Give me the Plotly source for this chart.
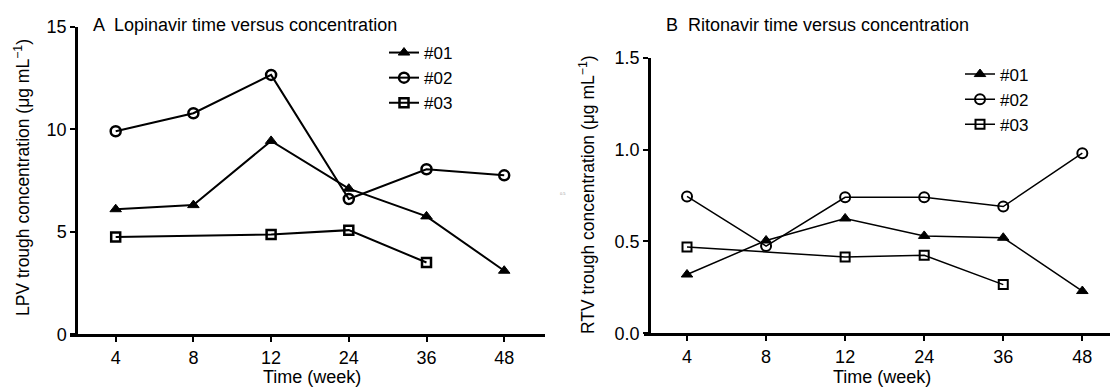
import plotly.graph_objects as go

weeks = ["4", "8", "12", "24", "36", "48"]

# Panel A: Lopinavir (LPV) trough concentration, µg/mL
lpv_01_x = ["4", "8", "12", "24", "36", "48"]
lpv_01 = [6.1, 6.3, 9.43, 7.1, 5.75, 3.1]
lpv_02_x = ["4", "8", "12", "24", "36", "48"]
lpv_02 = [9.9, 10.78, 12.65, 6.6, 8.05, 7.75]
lpv_03_x = ["4", "12", "24", "36"]
lpv_03 = [4.75, 4.87, 5.08, 3.5]

# Panel B: Ritonavir (RTV) trough concentration, µg/mL
rtv_01_x = ["4", "8", "12", "24", "36", "48"]
rtv_01 = [0.32, 0.505, 0.625, 0.53, 0.52, 0.23]
rtv_02_x = ["4", "8", "12", "24", "36", "48"]
rtv_02 = [0.745, 0.475, 0.74, 0.74, 0.69, 0.98]
rtv_03_x = ["4", "12", "24", "36"]
rtv_03 = [0.47, 0.415, 0.425, 0.265]

series_names = ["#01", "#02", "#03"]

FONT = "Liberation Sans, Arial, sans-serif"

fig = go.Figure()

def add(x, y, name, symbol, xa, ya, legend, lw, mlw, size):
    fig.add_trace(go.Scatter(
        x=x, y=y, name=name, mode="lines+markers",
        line=dict(color="black", width=lw),
        marker=dict(symbol=symbol, size=size, color="black",
                    line=dict(color="black", width=mlw)),
        xaxis=xa, yaxis=ya, legend=legend, showlegend=True,
    ))

add(lpv_01_x, lpv_01, series_names[0], "triangle-up", "x", "y", "legend", 2, 1, 10)
add(lpv_02_x, lpv_02, series_names[1], "circle-open", "x", "y", "legend", 2, 2.5, 10)
add(lpv_03_x, lpv_03, series_names[2], "square-open", "x", "y", "legend", 2, 2.5, 9)

add(rtv_01_x, rtv_01, series_names[0], "triangle-up", "x2", "y2", "legend2", 1.5, 1, 10)
add(rtv_02_x, rtv_02, series_names[1], "circle-open", "x2", "y2", "legend2", 1.5, 2, 10)
add(rtv_03_x, rtv_03, series_names[2], "square-open", "x2", "y2", "legend2", 1.5, 2, 9)

W, H = 1110, 388

def px(v):
    return v / W

def py(v):
    return (H - v) / H

axis_common = dict(
    showline=True, linecolor="black", linewidth=2.5,
    ticks="outside", ticklen=5, tickwidth=2, tickcolor="black",
    showgrid=False, zeroline=False, automargin=False,
    tickfont=dict(family=FONT, size=18, color="black"),
)

fig.update_layout(
    width=W, height=H,
    margin=dict(l=0, r=0, t=0, b=0, autoexpand=False),
    paper_bgcolor="white", plot_bgcolor="white",
    font=dict(family=FONT, color="black"),
    xaxis=dict(domain=[px(70), px(545)], type="category",
               categoryorder="array", categoryarray=weeks,
               range=[-0.588, 5.525], anchor="y", **axis_common),
    yaxis=dict(domain=[py(334.3), py(26.7)], range=[0, 15],
               tickvals=[0, 5, 10, 15], anchor="free", position=px(76),
               **axis_common),
    xaxis2=dict(domain=[px(643.6), 1.0], type="category",
                categoryorder="array", categoryarray=weeks,
                range=[-0.549, 5.35], anchor="y2", **axis_common),
    yaxis2=dict(domain=[py(333.3), py(57.7)], range=[0, 1.5],
                tickvals=[0, 0.5, 1.0, 1.5], ticktext=["0.0", "0.5", "1.0", "1.5"],
                anchor="free", position=px(649), **axis_common),
    legend=dict(x=px(384), y=py(35), xanchor="left", yanchor="top",
                bgcolor="rgba(0,0,0,0)", itemwidth=30, tracegroupgap=0,
                font=dict(family=FONT, size=17, color="black")),
    legend2=dict(x=px(960), y=py(56.5), xanchor="left", yanchor="top",
                 bgcolor="rgba(0,0,0,0)", itemwidth=30, tracegroupgap=0,
                 font=dict(family=FONT, size=17, color="black")),
    showlegend=True,
)

def note(text, x, y, size, angle=0, anchor="center"):
    fig.add_annotation(text=text, xref="paper", yref="paper", x=px(x), y=py(y),
                       xanchor=anchor, yanchor="middle", showarrow=False,
                       textangle=angle,
                       font=dict(family=FONT, size=size, color="black"))

note("A  Lopinavir time versus concentration", 91, 25, 18, anchor="left")
note("B  Ritonavir time versus concentration", 664, 25, 18, anchor="left")
note("Time (week)", 312, 377, 18)
note("Time (week)", 882, 377, 18)
note("LPV trough concentration (μg mL<sup>−1</sup>)", 22, 178, 17.5, angle=-90)
note("RTV trough concentration (μg mL<sup>−1</sup>)", 587, 195, 17.5, angle=-90)
fig.add_annotation(text="0.5", xref="paper", yref="paper", x=px(563), y=py(193),
                   showarrow=False, font=dict(family=FONT, size=4, color="#999999"))

fig.write_html("out.html",
               config={"displayModeBar": False},
               post_script="document.body.style.margin='0';document.body.style.overflow='hidden';")
